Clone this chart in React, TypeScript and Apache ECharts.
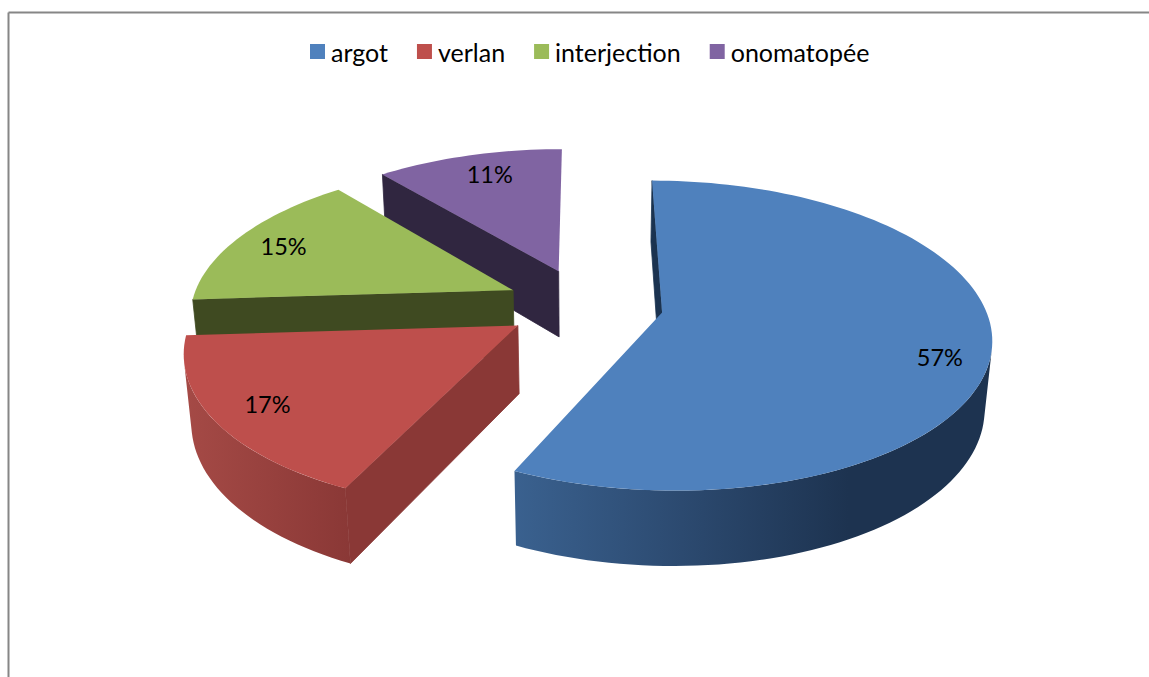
import React, { useEffect, useRef } from "react";
import * as echarts from "echarts";

const categories = ["argot", "verlan", "interjection", "onomatopée"];
const percentValues = [57, 17, 15, 11];

const topColors = ["#4f81bd", "#be4f4c", "#9bbb59", "#8064a2"];
const faceColors = ["#1b3350", "#8a3836", "#3f4a21", "#302640"];
const wallStops = [
  [[0, "#3a618f"], [0.35, "#2c4a70"], [0.7, "#1d3350"], [1, "#1d3350"]],
  [[0, "#a54a46"], [1, "#8a3836"]],
  [[0, "#5a6e33"], [1, "#3f4a21"]],
  [[0, "#4a3a63"], [1, "#302640"]],
];
const labelRadius = [0.84, 0.86, 0.72, 0.72];
const labelShift = [[2, 16], [7, -3], [-31, -4], [-2, -11]];

const FONT = "Lato, Carlito, 'Open Sans', sans-serif";
const CX = 584.5, CY = 304.5;
const TILT = (27.6 * Math.PI) / 180;
const DIST = 6;
const FOCAL = 322 * DIST;
const HEIGHT = 0.24;
const EXPLODE = 0.245;

function project(X: number, Y: number, Z: number): number[] {
  const v = Y * Math.cos(TILT) - Z * Math.sin(TILT);
  const u = Y * Math.sin(TILT) + Z * Math.cos(TILT);
  const w = DIST - u;
  return [CX + (FOCAL * X) / w, CY - (FOCAL * v) / w];
}

const total = percentValues.reduce((a, b) => a + b, 0);
const toAngle = (v: number) => (v / total) * Math.PI * 2;

function sliceElements(i: number) {
  let before = 0;
  for (let k = 0; k < i; k++) before += percentValues[k];
  const a0 = toAngle(before);
  const a1 = toAngle(before + percentValues[i]);
  const mid = (a0 + a1) / 2;
  const ox = EXPLODE * Math.sin(mid);
  const oz = -EXPLODE * Math.cos(mid);
  const rim = (a: number, y: number, r = 1) =>
    project(ox + r * Math.sin(a), y, oz - r * Math.cos(a));
  const arc = (from: number, to: number, y: number) => {
    const steps = Math.max(8, Math.ceil((to - from) / 0.03));
    const pts: number[][] = [];
    for (let s = 0; s <= steps; s++) pts.push(rim(from + ((to - from) * s) / steps, y));
    return pts;
  };
  const apexT = rim(0, 0, 0);
  const apexB = rim(0, -HEIGHT, 0);
  const gradient = {
    type: "linear",
    x: 0,
    y: 0,
    x2: 1,
    y2: 0,
    colorStops: wallStops[i].map(([offset, color]) => ({ offset, color })),
  };
  const out: any[] = [];
  // the outer wall shows only where it faces the camera
  const zCam = DIST * Math.cos(TILT);
  const faces = (a: number) =>
    -1 - ox * Math.sin(a) - Math.cos(a) * (zCam - oz) > 0;
  let wallFrom = -1;
  let wallTo = -1;
  const n = 400;
  for (let s = 0; s <= n; s++) {
    const a = a0 + ((a1 - a0) * s) / n;
    if (faces(a)) {
      if (wallFrom < 0) wallFrom = a;
      wallTo = a;
    }
  }
  if (wallFrom >= 0 && wallTo > wallFrom) {
    out.push({
      type: "polygon",
      shape: { points: [...arc(wallFrom, wallTo, 0), ...arc(wallFrom, wallTo, -HEIGHT).reverse()] },
      style: { fill: gradient },
    });
  }
  out.push({
    type: "polygon",
    shape: { points: [apexT, rim(a0, 0), rim(a0, -HEIGHT), apexB] },
    style: { fill: faceColors[i], stroke: faceColors[i], lineWidth: 0.8 },
  });
  const c = rim(mid, 0, labelRadius[i]);
  out.push(
    {
      type: "polygon",
      shape: { points: [apexT, ...arc(a0, a1, 0)] },
      style: { fill: topColors[i] },
    },
    {
      type: "text",
      style: {
        text: percentValues[i] + "%",
        x: c[0] + labelShift[i][0],
        y: c[1] + labelShift[i][1],
        align: "center",
        verticalAlign: "middle",
        fill: "#000",
        fontSize: 23.5,
        fontFamily: FONT,
      },
    }
  );
  return out;
}

export default function App() {
  const ref = useRef<HTMLDivElement>(null);
  useEffect(() => {
    document.body.style.margin = "0";
    const chart = echarts.init(ref.current!, undefined, { renderer: "svg" });
    const drawOrder = [3, 2, 1, 0];
    chart.setOption({
      animation: false,
      backgroundColor: "#fff",
      legend: {
        data: categories,
        left: 305,
        top: 34,
        icon: "rect",
        itemWidth: 15,
        itemHeight: 15,
        itemGap: 29,
        textStyle: { fontSize: 25, fontFamily: FONT, color: "#000", padding: [0, 0, 0, 1] },
      },
      graphic: [
        { type: "line", shape: { x1: 8.5, y1: 12.5, x2: 1149, y2: 12.5 }, style: { stroke: "#868686", lineWidth: 2 } },
        { type: "line", shape: { x1: 8.5, y1: 12.5, x2: 8.5, y2: 677 }, style: { stroke: "#868686", lineWidth: 2 } },
      ],
      series: categories.map((name, i) => ({
        type: "custom",
        name,
        coordinateSystem: "none",
        clip: false,
        silent: true,
        z: 2 + drawOrder.indexOf(i),
        itemStyle: { color: topColors[i] },
        data: [[percentValues[i]]],
        renderItem: () => ({ type: "group", children: sliceElements(i) }),
      })),
    });
    return () => chart.dispose();
  }, []);
  return <div ref={ref} style={{ position: "absolute", left: 0, top: 0, width: 1149, height: 677 }} />;
}
